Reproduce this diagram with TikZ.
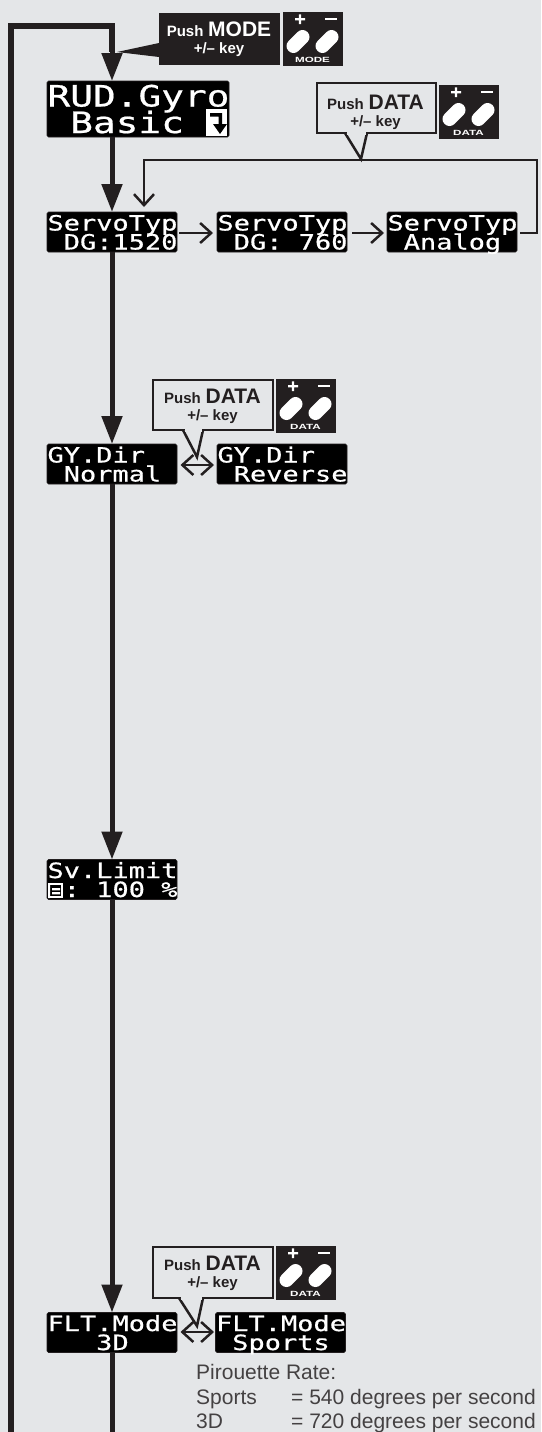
\documentclass[tikz,border=0pt]{standalone}
\usepackage{fontspec}
\setmainfont{Liberation Sans}
\newfontfamily\lcdfam[FakeStretch=1.285,FakeBold=0.7]{DejaVu Sans Mono}
\newfontfamily\keyfam[FakeStretch=1.55]{Liberation Sans Bold}
\usetikzlibrary{arrows.meta}
\definecolor{bgc}{HTML}{E4E6E8}
\definecolor{ink}{HTML}{231F20}
\newcommand\lcdsmall[2]{\vbox to 40pt{\offinterlineskip\vskip 18.5pt
  \hbox to 130pt{\hskip 0.5pt\smash{\fontsize{21}{21}\lcdfam #1}\hss}\vskip 19pt
  \hbox to 130pt{\hskip 0.5pt\smash{\fontsize{21}{21}\lcdfam #2}\hss}\vss}}
\newcommand\lcdbig[2]{\vbox to 56pt{\offinterlineskip\vskip 25.5pt
  \hbox to 182pt{\hskip 0.5pt\smash{\fontsize{29.4}{29.4}\lcdfam #1}\hss}\vskip 26.5pt
  \hbox to 182pt{\hskip 0.5pt\smash{\fontsize{29.4}{29.4}\lcdfam #2}\hss}\vss}}
\newcommand\pushtext[1]{{\fontsize{15}{15}\bfseries Push}\hspace{2pt} {\fontsize{21}{21}\selectfont\bfseries #1}\\[5pt]{\fontsize{15}{15}\bfseries +/-- key}}
\newcommand\keyicon[4]{%#1 name #2 x #3 y #4 label
  \begin{scope}[shift={(#2,#3)}]
    \node[iconbox] (#1) at (30,27) {};
    \draw[keycap] (10.5,34) -- (19.5,25);
    \draw[keycap] (39.5,34) -- (48.5,25);
    \fill[white] (12,6) rectangle (22,8.4) (15.8,2.4) rectangle (18.2,12);
    \fill[white] (42,6) rectangle (54,8.4);
    \node[iconlabel] (#1l) at (29.5,47.5) {#4};
  \end{scope}}
\tikzset{
  x=1pt,y=-1pt,
  lcd/.style={fill=black,draw=ink,line width=0.6pt,rounded corners=1.5pt,inner sep=0pt,outer sep=0pt,text=white,anchor=center},
  iconbox/.style={fill=ink,minimum width=60pt,minimum height=54pt,inner sep=0pt,outer sep=0pt},
  iconlabel/.style={text=white,font=\fontsize{7.5}{7.5}\keyfam,inner sep=0pt},
  keycap/.style={white,line width=14pt,line cap=round},
  main/.style={draw=ink,line width=5pt,-{Triangle[length=28pt,width=20pt]}},
  plainthick/.style={draw=ink,line width=5pt},
  outerline/.style={draw=ink,line width=6pt,line join=miter},
  thin/.style={draw=ink,line width=2.5pt,-{Straight Barb[length=11pt,width=20pt,line width=2.5pt]}},
  thinboth/.style={draw=ink,line width=2.5pt,{Straight Barb[length=11pt,width=20pt,line width=2.5pt]}-{Straight Barb[length=11pt,width=20pt,line width=2.5pt]}},
  callout/.style={draw=ink,line width=2.5pt,fill=bgc,line join=miter},
  ctext/.style={align=center,text=ink,inner sep=0pt},
  note/.style={anchor=base west,inner sep=0pt,text=ink!85!white,font=\fontsize{21}{21}\selectfont},
}
\begin{document}
\begin{tikzpicture}
\useasboundingbox (0,0) rectangle (541,1432);
\fill[bgc] (0,0) rectangle (541,1432);

% displays
\node[lcd] (rud) at (138,109) {\lcdbig{RUD.Gyro}{~Basic}};
\node[lcd] (st1) at (112,232) {\lcdsmall{ServoTyp}{~DG:1520}};
\node[lcd] (st2) at (282,232) {\lcdsmall{ServoTyp}{~DG:~760}};
\node[lcd] (st3) at (452,232) {\lcdsmall{ServoTyp}{~Analog}};
\node[lcd] (gy1) at (112,464) {\lcdsmall{GY.Dir}{~Normal}};
\node[lcd] (gy2) at (282,464) {\lcdsmall{GY.Dir}{~Reverse}};
\node[lcd] (sv)  at (112,879.5) {\lcdsmall{Sv.Limit}{~:~100~\%}};
\node[lcd] (fl1) at (112,1332.5) {\lcdsmall{FLT.Mode}{~~~3D}};
\node[lcd] (fl2) at (280.5,1332.5) {\lcdsmall{FLT.Mode}{~Sports}};

% menu glyphs inside displays
\fill[white] (206,109) rectangle (227,136);
\fill[black] (210,113) rectangle (222,116.5) (218.5,113) rectangle (222,126);
\fill[black] (213,124) -- (227,124) -- (220,134) -- cycle;
\draw[white,line width=1.8pt] (49,884) -- (62,884) -- (62,897) -- (49,897);
\fill[white] (48,883) rectangle (50,898) (52,888) rectangle (60,890.4) (52,892) rectangle (60,894.4);

% main thick line
\coordinate (ltop) at (10.5,26);
\coordinate (lbot) at (10.5,1432);
\coordinate (cbot) at (112,1432);
\draw[outerline] (lbot) -- (ltop) -| (st1.north |- 0,52);
\draw[main] (st1.north |- 0,40) -- (st1.north |- rud.north);
\draw[main] (st1.north |- rud.south) -- (st1.north);
\draw[main] (st1.south) -- (gy1.north);
\draw[main] (gy1.south) -- (sv.north);
\draw[main] (sv.south) -- (fl1.north);
\draw[plainthick] (fl1.south) -- (cbot);

% thin connectors
\draw[thin] (179,233) -- (213,233);
\draw[thin] (352,233) -- (384,233);
\coordinate (loopa) at (537,160);
\coordinate (loopb) at (144,160);
\coordinate (loopc) at (144,207);
\draw[thin,line join=miter] (st3.east |- 0,233) ++(3,0) -- (loopa |- 0,233) -- (loopa) -- (loopb) -- (loopc);
\draw[thinboth] (180.5,465) -- (214,465);
\draw[thinboth] (180.5,1332) -- (214,1332);

% callouts
\fill[ink] (159,13) rectangle (280,65);
\fill[ink] (159,43) -- (117,52) -- (159,57) -- cycle;
\node[ctext,text=white] (cmode) at (219,39) {\pushtext{MODE}};
\draw[callout] (317,83) rectangle (436,133);
\draw[callout] (345,133) -- (361,159) -- (367,133);
\fill[bgc] (346.5,131) rectangle (365.5,134.5);
\node[ctext] (c1) at (375.5,112) {\pushtext{DATA}};
\draw[callout] (153,380) rectangle (273,430);
\draw[callout] (183,430) -- (197,457) -- (203,430);
\fill[bgc] (184.5,428) rectangle (201.5,431.5);
\node[ctext] (c2) at (212.5,406.5) {\pushtext{DATA}};
\draw[callout] (153,1247) rectangle (273,1298);
\draw[callout] (179,1298) -- (197,1326) -- (203,1298);
\fill[bgc] (180.5,1296) rectangle (201.5,1299.5);
\node[ctext] (c3) at (212.5,1273.5) {\pushtext{DATA}};

% key icons
\keyicon{kmode}{283}{12}{MODE}
\keyicon{k1}{439}{85}{DATA}
\keyicon{k2}{276}{379}{DATA}
\keyicon{k3}{276}{1246}{DATA}

% notes
\node[note] (n1) at (196,1379.5) {Pirouette Rate:};
\node[note] (n2) at (196,1404) {Sports};
\node[note] (n3) at (291,1404) {= 540 degrees per second};
\node[note] (n4) at (196,1428.5) {3D};
\node[note] (n5) at (291,1428.5) {= 720 degrees per second};
\end{tikzpicture}
\end{document}
